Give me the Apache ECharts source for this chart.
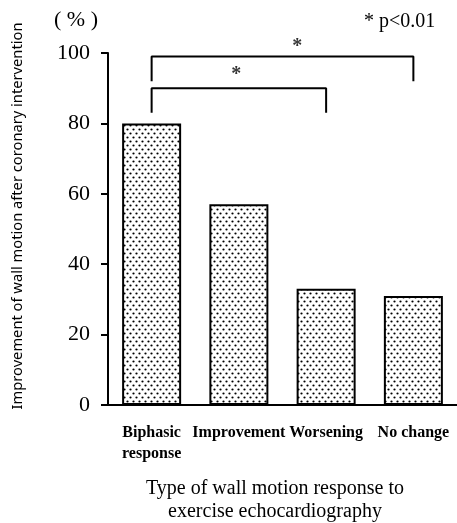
<!DOCTYPE html>
<html>
<head>
<meta charset="utf-8">
<script src="https://cdn.jsdelivr.net/npm/echarts@6/dist/echarts.min.js"></script>
<style>
  html, body { margin: 0; padding: 0; background: #fff; }
  #chart { width: 457px; height: 523px; }
</style>
</head>
<body>
<div id="chart"></div>
<script>
// data
const categories = ['Biphasic\nresponse', 'Improvement', 'Worsening', 'No change'];
const values = [80, 57, 33, 31];
const yMin = 0, yMax = 100, yStep = 20;
// brackets [category index, value]
const bracketOuter = [[0, 92], [0, 99], [3, 99], [3, 92]];
const bracketInner = [[0, 83], [0, 90], [2, 90], [2, 83]];
const stars = [[1.67, 101.8], [0.97, 93.8]];

// dotted fill like the print
function dotPattern() {
  const c = document.createElement('canvas');
  c.width = 6; c.height = 8;
  const ctx = c.getContext('2d');
  ctx.fillStyle = '#fff';
  ctx.fillRect(0, 0, 6, 8);
  ctx.fillStyle = '#000';
  ctx.beginPath(); ctx.arc(1.5, 1.5, 1.1, 0, Math.PI * 2); ctx.fill();
  ctx.beginPath(); ctx.arc(4.5, 5.5, 1.1, 0, Math.PI * 2); ctx.fill();
  return c;
}

const serif = '"Liberation Serif", "Times New Roman", serif';
const chart = echarts.init(document.getElementById('chart'));

const option = {
  animation: false,
  backgroundColor: '#fff',
  grid: { left: 108, right: -3, top: 53, bottom: 118, containLabel: false },
  xAxis: [
    {
      type: 'category',
      data: categories,
      axisLine: { lineStyle: { color: '#000', width: 2 } },
      axisTick: { alignWithLabel: true, length: 8, lineStyle: { color: '#000', width: 2 } },
      axisLabel: {
        color: '#000', fontFamily: serif, fontWeight: 'bold', fontSize: 16,
        lineHeight: 21, margin: 17, interval: 0
      }
    },
    { type: 'value', min: -0.5, max: 3.5, show: false }
  ],
  yAxis: {
    type: 'value',
    min: yMin, max: yMax, interval: yStep,
    splitLine: { show: false },
    axisLine: { show: true, onZero: false, lineStyle: { color: '#000', width: 2 } },
    axisTick: { show: true, length: 7, lineStyle: { color: '#000', width: 2 } },
    axisLabel: { color: '#000', fontFamily: serif, fontSize: 22, margin: 18 }
  },
  series: [
    {
      type: 'bar',
      data: values,
      barWidth: 59,
      itemStyle: {
        color: { image: dotPattern(), repeat: 'repeat' },
        borderColor: '#000', borderWidth: 2
      }
    },
    {
      type: 'line', xAxisIndex: 1, data: bracketOuter, showSymbol: false,
      lineStyle: { color: '#000', width: 2 }, clip: false
    },
    {
      type: 'line', xAxisIndex: 1, data: bracketInner, showSymbol: false,
      lineStyle: { color: '#000', width: 2 }, clip: false
    },
    {
      type: 'scatter', xAxisIndex: 1, data: stars, symbolSize: 0, clip: false,
      label: {
        show: true, position: 'inside', formatter: '*', color: '#000',
        fontFamily: serif, fontSize: 20, fontWeight: 'bold'
      }
    }
  ],
  graphic: [
    {
      type: 'text', left: 54, top: 9,
      style: { text: '( % )', fill: '#000', font: '22px ' + serif }
    },
    {
      type: 'text', left: 364, top: 12,
      style: { text: '* p<0.01', fill: '#000', font: '20px ' + serif }
    },
    {
      type: 'text', x: 18, y: 216, rotation: Math.PI / 2,
      style: {
        text: 'Improvement of wall motion after coronary intervention',
        fill: '#000', font: '14.7px "Noto Sans", sans-serif',
        textAlign: 'center', textVerticalAlign: 'middle'
      }
    },
    {
      type: 'text', x: 275, y: 500,
      style: {
        text: 'Type of wall motion response to\nexercise echocardiography',
        fill: '#000', font: '20px ' + serif, lineHeight: 23,
        textAlign: 'center', textVerticalAlign: 'middle'
      }
    }
  ]
};

chart.setOption(option);
</script>
</body>
</html>
